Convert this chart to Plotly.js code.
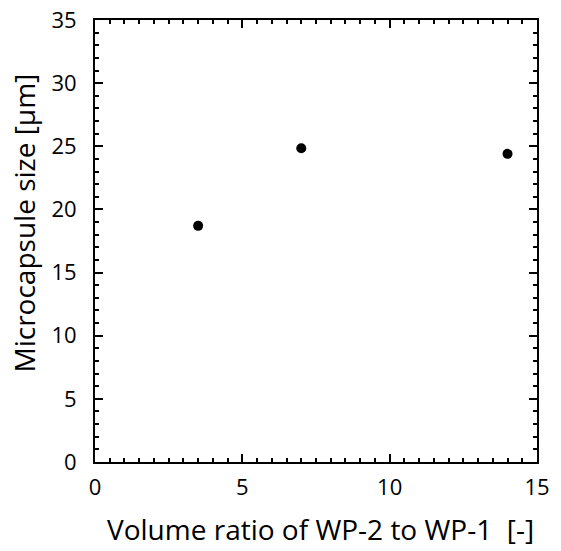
<!DOCTYPE html>
<html><head><meta charset="utf-8">
<script src="https://cdn.plot.ly/plotly-3.0.1.min.js"></script>
<style>html,body{margin:0;padding:0;background:#fff}</style>
</head><body>
<div id="chart" style="width:561px;height:551px"></div>
<script>
const volumeRatio = [3.5, 7, 14];
const capsuleSize = [18.7, 24.85, 24.4];
const xTickVals = [0, 5, 10, 15];
const yTickVals = [0, 5, 10, 15, 20, 25, 30, 35];
const xTitle = "Volume ratio of WP-2 to WP-1  [-]";
const yTitle = "Microcapsule size [μm]";

const font = {family: "Open Sans, Noto Sans, sans-serif", color: "#000"};
const axisCommon = {
  showgrid: false, zeroline: false, showline: true, linecolor: "#000", linewidth: 2,
  mirror: "ticks", ticks: "inside", ticklen: 8, tickwidth: 2, tickcolor: "#000",
  tickfont: Object.assign({size: 22}, font)
};
const W = 561, H = 551, L = 95, R = 24, T = 20, B = 89;
const pw = W - L - R, ph = H - T - B;
Plotly.newPlot("chart", [{
  x: volumeRatio, y: capsuleSize, type: "scatter", mode: "markers",
  marker: {color: "#000", size: 10}, cliponaxis: false
}], {
  width: W, height: H,
  margin: {l: L, r: R, t: T, b: B},
  paper_bgcolor: "#fff", plot_bgcolor: "#fff", showlegend: false,
  xaxis: Object.assign({}, axisCommon, {
    range: [0, 15], tickvals: xTickVals, ticklabelstandoff: 5,
    minor: {dtick: 0.5, ticks: "inside", ticklen: 4, tickwidth: 2, tickcolor: "#000"}
  }),
  yaxis: Object.assign({}, axisCommon, {
    range: [0, 35], tickvals: yTickVals, ticklabelstandoff: 12,
    minor: {dtick: 1, ticks: "inside", ticklen: 4, tickwidth: 2, tickcolor: "#000"}
  }),
  annotations: [
    {text: xTitle, xref: "paper", yref: "paper", showarrow: false,
     x: (320 - L) / pw, y: (T + ph - 529) / ph, xanchor: "center", yanchor: "middle",
     font: Object.assign({size: 28}, font)},
    {text: yTitle, xref: "paper", yref: "paper", showarrow: false, textangle: -90,
     x: (23 - L) / pw, y: (T + ph - 223.5) / ph, xanchor: "center", yanchor: "middle",
     font: Object.assign({size: 28}, font)}
  ]
}, {displayModeBar: false, staticPlot: true});
</script>
</body></html>
